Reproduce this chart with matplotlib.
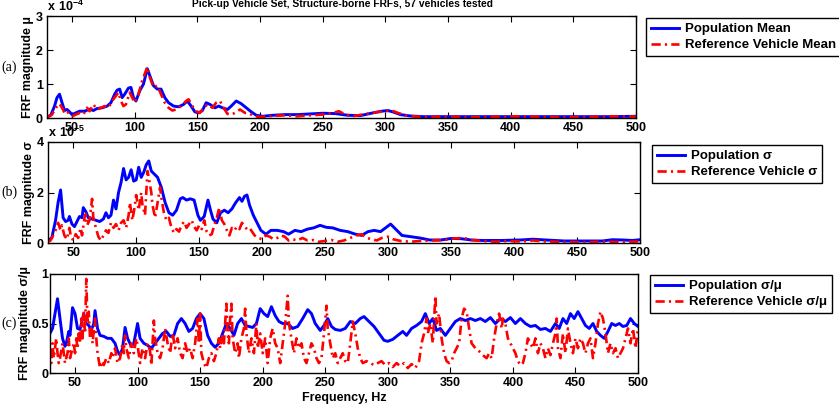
import matplotlib
matplotlib.use("Agg")
import matplotlib.pyplot as plt

# --- data (freq Hz, value) ---
# panel (a): mean, units of 1e-4
mu_pop = [(30, 0.03), (33, 0.08), (36, 0.35), (38, 0.6), (40, 0.7), (42, 0.45), (44, 0.22), (46, 0.25),
          (48, 0.18), (50, 0.1), (53, 0.15), (56, 0.2), (60, 0.2), (64, 0.26), (67, 0.22), (70, 0.28),
          (74, 0.3), (78, 0.35), (81, 0.45), (84, 0.7), (86, 0.82), (88, 0.85), (90, 0.6), (92, 0.7),
          (95, 0.88), (97, 0.9), (99, 0.6), (101, 0.5), (104, 0.8), (107, 1.0), (110, 1.45), (112, 1.25),
          (115, 0.95), (118, 0.85), (121, 0.85), (124, 0.6), (127, 0.45), (131, 0.35), (135, 0.33),
          (139, 0.4), (142, 0.5), (145, 0.35), (148, 0.18), (151, 0.15), (154, 0.22), (157, 0.45),
          (160, 0.4), (164, 0.3), (167, 0.35), (170, 0.3), (174, 0.25), (177, 0.35), (181, 0.5),
          (185, 0.42), (189, 0.3), (193, 0.18), (197, 0.08), (202, 0.05), (210, 0.08), (220, 0.1),
          (230, 0.1), (240, 0.12), (250, 0.14), (260, 0.13), (270, 0.08), (280, 0.07), (290, 0.15),
          (297, 0.2), (302, 0.22), (306, 0.18), (312, 0.1), (320, 0.06), (330, 0.04), (345, 0.04),
          (360, 0.04), (380, 0.04), (400, 0.04), (420, 0.04), (440, 0.04), (460, 0.04), (480, 0.04),
          (500, 0.05)]
mu_ref = [(30, 0.02), (34, 0.1), (37, 0.3), (40, 0.42), (42, 0.3), (44, 0.15), (46, 0.2), (48, 0.1),
          (50, 0.05), (53, 0.1), (56, 0.15), (59, 0.1), (62, 0.3), (64, 0.2), (67, 0.4), (70, 0.25),
          (73, 0.3), (76, 0.35), (79, 0.3), (82, 0.5), (85, 0.65), (87, 0.75), (89, 0.5), (91, 0.35),
          (93, 0.4), (96, 0.75), (98, 0.6), (100, 0.45), (103, 0.7), (106, 1.1), (110, 1.5), (112, 1.2),
          (115, 0.9), (118, 0.95), (121, 0.7), (124, 0.45), (127, 0.3), (130, 0.22), (133, 0.25),
          (137, 0.35), (141, 0.5), (143, 0.55), (146, 0.35), (149, 0.2), (152, 0.15), (155, 0.3),
          (158, 0.4), (162, 0.3), (165, 0.45), (168, 0.5), (171, 0.3), (174, 0.12), (177, 0.1),
          (180, 0.15), (184, 0.25), (188, 0.15), (192, 0.12), (196, 0.05), (200, 0.03), (210, 0.06),
          (220, 0.08), (230, 0.05), (240, 0.08), (250, 0.1), (258, 0.15), (263, 0.2), (268, 0.1),
          (275, 0.06), (285, 0.12), (295, 0.18), (305, 0.22), (310, 0.15), (318, 0.06), (330, 0.03),
          (350, 0.04), (370, 0.02), (400, 0.05), (420, 0.04), (440, 0.02), (460, 0.03), (480, 0.05),
          (500, 0.04)]

# panel (b): std dev, units of 1e-5
sig_pop = [(30, 0.1), (33, 0.2), (36, 0.9), (38, 1.6), (40, 2.1), (42, 1.0), (44, 0.85), (46, 0.9),
           (47, 1.05), (49, 0.75), (51, 0.65), (53, 0.85), (55, 1.05), (57, 1.0), (58, 1.4), (60, 1.25),
           (62, 1.0), (65, 0.95), (68, 0.9), (71, 0.85), (74, 0.95), (76, 1.2), (78, 1.0), (80, 1.1),
           (82, 1.7), (84, 1.35), (86, 2.0), (88, 2.4), (90, 2.95), (92, 2.5), (94, 2.6), (96, 2.9),
           (98, 2.45), (100, 2.5), (102, 3.0), (104, 2.6), (106, 2.8), (108, 3.1), (110, 3.25),
           (112, 2.85), (114, 2.75), (117, 2.6), (120, 2.2), (123, 1.6), (126, 1.2), (129, 1.1),
           (132, 1.3), (135, 1.75), (137, 1.8), (140, 1.7), (143, 1.75), (146, 1.7), (149, 1.1),
           (151, 0.9), (154, 1.05), (157, 1.7), (159, 1.3), (161, 0.95), (164, 0.8), (167, 1.2),
           (170, 1.3), (173, 1.2), (176, 1.35), (179, 1.6), (182, 1.8), (184, 1.65), (186, 1.85),
           (188, 1.9), (190, 1.5), (193, 1.1), (196, 0.8), (199, 0.5), (203, 0.35), (207, 0.5),
           (212, 0.5), (217, 0.45), (221, 0.35), (226, 0.5), (231, 0.45), (236, 0.55), (241, 0.6),
           (246, 0.7), (251, 0.62), (256, 0.6), (262, 0.5), (268, 0.45), (274, 0.35), (279, 0.3),
           (284, 0.45), (289, 0.5), (294, 0.45), (298, 0.6), (302, 0.75), (306, 0.55), (311, 0.3),
           (318, 0.25), (325, 0.2), (333, 0.12), (342, 0.12), (350, 0.18), (358, 0.17), (366, 0.12),
           (375, 0.1), (390, 0.1), (405, 0.12), (415, 0.15), (425, 0.12), (440, 0.08), (455, 0.08),
           (470, 0.08), (478, 0.13), (486, 0.12), (494, 0.1), (500, 0.13)]
sig_ref = [(30, 0.05), (32, 0.1), (34, 0.3), (36, 0.5), (38, 0.8), (40, 0.5), (41, 0.7), (43, 0.3),
           (45, 0.15), (47, 0.6), (48, 0.3), (50, 0.1), (52, 0.35), (54, 0.2), (56, 0.6), (57, 0.3),
           (59, 1.0), (60, 1.15), (61, 0.7), (63, 0.9), (65, 1.75), (66, 1.0), (68, 0.6), (70, 0.25),
           (72, 0.1), (74, 0.3), (76, 0.5), (78, 0.4), (80, 0.8), (82, 0.6), (84, 0.75), (86, 0.5),
           (88, 0.8), (90, 0.9), (92, 0.6), (94, 1.1), (95, 1.6), (97, 0.9), (99, 1.5), (100, 1.9),
           (102, 1.3), (104, 2.0), (105, 1.5), (107, 1.1), (109, 2.85), (110, 2.6), (112, 2.0),
           (113, 1.5), (115, 1.0), (117, 1.6), (119, 2.2), (120, 1.8), (122, 1.2), (124, 0.9),
           (126, 1.0), (128, 0.6), (130, 0.4), (132, 0.55), (134, 0.45), (136, 0.7), (138, 0.85),
           (140, 0.6), (142, 0.75), (144, 0.9), (146, 0.65), (148, 0.5), (150, 0.7), (152, 0.55),
           (154, 0.9), (156, 0.45), (158, 0.3), (160, 0.35), (162, 0.7), (164, 1.0), (166, 1.4),
           (168, 0.9), (170, 0.75), (172, 0.5), (174, 0.3), (176, 0.6), (178, 0.5), (180, 0.65),
           (182, 0.55), (184, 0.8), (186, 0.65), (188, 0.55), (190, 0.6), (192, 0.45), (194, 0.3),
           (197, 0.2), (200, 0.15), (203, 0.3), (206, 0.25), (209, 0.15), (212, 0.2), (215, 0.3),
           (218, 0.25), (221, 0.1), (224, 0.15), (228, 0.1), (232, 0.2), (236, 0.1), (240, 0.12),
           (245, 0.05), (250, 0.08), (255, 0.12), (260, 0.05), (265, 0.1), (270, 0.2), (275, 0.3),
           (279, 0.35), (283, 0.2), (287, 0.15), (291, 0.1), (295, 0.2), (300, 0.25), (304, 0.15),
           (310, 0.08), (318, 0.05), (325, 0.08), (335, 0.1), (345, 0.12), (352, 0.18), (360, 0.2),
           (366, 0.12), (375, 0.08), (385, 0.05), (395, 0.08), (405, 0.06), (415, 0.1), (425, 0.06),
           (440, 0.04), (455, 0.03), (470, 0.05), (485, 0.04), (500, 0.06)]

# panel (c): sigma / mu
cv_pop = [(30, 0.4), (32, 0.45), (34, 0.6), (36, 0.75), (38, 0.55), (40, 0.35), (42, 0.27), (43, 0.3),
          (45, 0.42), (46, 0.38), (48, 0.66), (50, 0.6), (52, 0.45), (54, 0.44), (56, 0.55), (57, 0.6),
          (59, 0.5), (61, 0.48), (63, 0.43), (65, 0.5), (66, 0.63), (68, 0.45), (70, 0.38), (73, 0.37),
          (76, 0.35), (79, 0.35), (82, 0.3), (84, 0.22), (86, 0.18), (88, 0.25), (90, 0.46), (92, 0.35),
          (95, 0.27), (97, 0.3), (100, 0.5), (102, 0.35), (105, 0.3), (108, 0.28), (111, 0.25),
          (114, 0.3), (117, 0.35), (120, 0.4), (123, 0.42), (126, 0.37), (129, 0.38), (132, 0.5),
          (135, 0.55), (138, 0.5), (141, 0.42), (144, 0.45), (147, 0.55), (150, 0.6), (153, 0.55),
          (156, 0.38), (159, 0.3), (162, 0.26), (165, 0.3), (168, 0.4), (171, 0.5), (174, 0.45),
          (177, 0.38), (180, 0.5), (183, 0.55), (186, 0.48), (189, 0.47), (192, 0.46), (195, 0.5),
          (198, 0.65), (201, 0.6), (204, 0.57), (207, 0.67), (210, 0.58), (213, 0.52), (216, 0.5),
          (220, 0.5), (224, 0.45), (228, 0.47), (232, 0.55), (236, 0.64), (239, 0.6), (242, 0.5),
          (246, 0.43), (249, 0.48), (252, 0.55), (255, 0.47), (258, 0.44), (262, 0.43), (266, 0.45),
          (270, 0.52), (274, 0.5), (278, 0.55), (281, 0.57), (285, 0.52), (289, 0.47), (293, 0.4),
          (297, 0.33), (300, 0.32), (304, 0.34), (308, 0.38), (312, 0.42), (315, 0.38), (319, 0.45),
          (323, 0.48), (327, 0.52), (330, 0.6), (333, 0.5), (336, 0.55), (339, 0.43), (342, 0.45),
          (346, 0.38), (350, 0.45), (354, 0.52), (358, 0.55), (362, 0.53), (366, 0.55), (370, 0.53),
          (374, 0.55), (378, 0.52), (382, 0.56), (386, 0.5), (390, 0.55), (394, 0.52), (398, 0.56),
          (402, 0.5), (406, 0.55), (410, 0.5), (414, 0.47), (418, 0.48), (422, 0.44), (426, 0.45),
          (430, 0.42), (434, 0.5), (437, 0.45), (440, 0.55), (443, 0.5), (446, 0.6), (449, 0.55),
          (452, 0.62), (455, 0.55), (458, 0.48), (461, 0.45), (464, 0.5), (467, 0.42), (470, 0.38),
          (473, 0.35), (476, 0.42), (479, 0.5), (482, 0.48), (485, 0.5), (488, 0.47), (491, 0.48),
          (494, 0.55), (497, 0.5), (500, 0.47)]
cv_ref = [(30, 0.25), (31, 0.1), (32, 0.3), (33, 0.15), (34, 0.25), (35, 0.35), (36, 0.2), (37, 0.1),
          (38, 0.15), (40, 0.3), (41, 0.2), (42, 0.1), (44, 0.2), (45, 0.35), (46, 0.15), (48, 0.25),
          (49, 0.3), (50, 0.2), (51, 0.35), (52, 0.25), (53, 0.4), (54, 0.3), (55, 0.55), (56, 0.35),
          (57, 0.62), (58, 0.4), (59, 0.95), (60, 0.5), (61, 0.62), (62, 0.35), (63, 0.45), (64, 0.3),
          (66, 0.55), (67, 0.35), (68, 0.2), (70, 0.05), (72, 0.12), (73, 0.08), (75, 0.15), (77, 0.1),
          (79, 0.2), (80, 0.15), (82, 0.25), (84, 0.1), (86, 0.15), (88, 0.3), (89, 0.2), (90, 0.38),
          (91, 0.25), (93, 0.15), (95, 0.3), (97, 0.2), (99, 0.35), (100, 0.28), (102, 0.1), (104, 0.25),
          (106, 0.15), (108, 0.3), (110, 0.22), (111, 0.08), (113, 0.53), (114, 0.35), (116, 0.2),
          (118, 0.15), (120, 0.25), (122, 0.45), (124, 0.3), (126, 0.2), (128, 0.4), (130, 0.25),
          (132, 0.35), (134, 0.2), (136, 0.15), (138, 0.3), (140, 0.2), (142, 0.25), (144, 0.15),
          (146, 0.3), (148, 0.55), (149, 0.3), (150, 0.6), (151, 0.2), (153, 0.1), (155, 0.05),
          (157, 0.15), (159, 0.2), (161, 0.12), (163, 0.2), (165, 0.35), (166, 0.25), (168, 0.4),
          (169, 0.3), (171, 0.7), (172, 0.4), (173, 0.3), (174, 0.55), (175, 0.7), (176, 0.35),
          (178, 0.2), (180, 0.3), (181, 0.15), (183, 0.35), (185, 0.45), (186, 0.65), (187, 0.4),
          (189, 0.2), (191, 0.35), (193, 0.2), (195, 0.5), (196, 0.25), (198, 0.4), (200, 0.2),
          (202, 0.35), (204, 0.1), (206, 0.35), (208, 0.45), (210, 0.3), (212, 0.25), (214, 0.1),
          (216, 0.3), (218, 0.5), (220, 0.78), (221, 0.5), (223, 0.35), (225, 0.2), (227, 0.35),
          (229, 0.25), (231, 0.3), (233, 0.15), (235, 0.1), (237, 0.2), (239, 0.3), (241, 0.25),
          (243, 0.15), (245, 0.1), (247, 0.15), (249, 0.4), (251, 0.68), (252, 0.45), (254, 0.3),
          (256, 0.15), (258, 0.2), (260, 0.1), (262, 0.15), (264, 0.2), (266, 0.12), (268, 0.1),
          (270, 0.3), (272, 0.52), (274, 0.4), (276, 0.25), (278, 0.15), (280, 0.1), (283, 0.12),
          (286, 0.1), (289, 0.08), (292, 0.1), (295, 0.12), (298, 0.08), (301, 0.1), (304, 0.06),
          (307, 0.1), (310, 0.07), (313, 0.1), (316, 0.05), (319, 0.09), (322, 0.05), (325, 0.12),
          (327, 0.3), (329, 0.4), (331, 0.55), (332, 0.4), (334, 0.5), (336, 0.3), (338, 0.78),
          (339, 0.5), (341, 0.6), (343, 0.35), (345, 0.2), (347, 0.12), (349, 0.1), (351, 0.12),
          (353, 0.2), (355, 0.25), (357, 0.3), (359, 0.55), (361, 0.65), (363, 0.62), (365, 0.45),
          (367, 0.3), (370, 0.25), (373, 0.22), (376, 0.18), (379, 0.15), (381, 0.2), (383, 0.15),
          (385, 0.35), (387, 0.5), (389, 0.6), (391, 0.45), (392, 0.55), (394, 0.5), (396, 0.35),
          (398, 0.3), (400, 0.25), (402, 0.2), (404, 0.12), (406, 0.08), (408, 0.1), (410, 0.2),
          (412, 0.35), (414, 0.3), (416, 0.25), (418, 0.35), (420, 0.2), (422, 0.3), (424, 0.25),
          (426, 0.15), (428, 0.25), (430, 0.18), (432, 0.3), (434, 0.4), (435, 0.55), (436, 0.25),
          (438, 0.15), (440, 0.4), (442, 0.2), (444, 0.45), (446, 0.3), (448, 0.2), (450, 0.35),
          (452, 0.25), (454, 0.35), (456, 0.3), (458, 0.2), (460, 0.3), (462, 0.35), (464, 0.15),
          (466, 0.3), (468, 0.5), (470, 0.62), (472, 0.55), (474, 0.4), (476, 0.2), (478, 0.3),
          (480, 0.2), (482, 0.25), (484, 0.15), (486, 0.2), (488, 0.25), (490, 0.35), (492, 0.45),
          (494, 0.3), (496, 0.45), (498, 0.25), (500, 0.45)]

x_ticks = [50, 100, 150, 200, 250, 300, 350, 400, 450, 500]
title = "Pick-up Vehicle Set, Structure-borne FRFs, 57 vehicles tested"

plt.rcParams["font.family"] = ["Liberation Sans", "DejaVu Sans"]
plt.rcParams["font.weight"] = "bold"
plt.rcParams["mathtext.fontset"] = "custom"
plt.rcParams["mathtext.bf"] = "Liberation Sans:bold"
plt.rcParams["mathtext.rm"] = "Liberation Sans:bold"

fig = plt.figure(figsize=(8.39, 4.08), dpi=100)
W, H = 839.0, 408.0


def panel(px, pop, ref, ylim, yticks, ylabel, tag, labels, leg_px, expo=None,
          lab_x=-0.022, tpad=3):
    # px = (left, top, right, bottom) in pixels
    l, t, r, b = px
    ax = fig.add_axes([l / W, 1 - b / H, (r - l) / W, (b - t) / H])
    f1, v1 = zip(*pop)
    f2, v2 = zip(*ref)
    ax.plot(f1, v1, color="#0000ff", lw=2.1, solid_joinstyle="round", label=labels[0])
    ax.plot(f2, v2, color="#ff0000", lw=1.9, ls=(0, (3.5, 1.6, 0.8, 1.6)), label=labels[1])
    ax.set_xlim(30, 500)
    ax.set_ylim(*ylim)
    ax.set_xticks(x_ticks)
    ax.set_yticks(yticks)
    ax.set_yticklabels([("%g" % v) for v in yticks])
    ax.tick_params(direction="in", top=True, right=True, length=4, width=0.8,
                   labelsize=9, pad=3)
    ax.tick_params(axis="y", pad=tpad)
    for s in ax.spines.values():
        s.set_linewidth(1.0)
    ax.set_ylabel(ylabel, fontsize=9, fontweight="bold")
    ax.yaxis.set_label_coords(lab_x, 0.5)
    fig.text(0.002, 1 - (t + b) / 2 / H, tag, family="Liberation Serif",
             fontweight="normal", fontsize=10, va="center", ha="left")
    if expo:
        ax.text(0.0, 1.015, r"$\mathbf{x\ 10^{%s}}$" % expo, transform=ax.transAxes,
                fontsize=9, ha="left", va="bottom")
    leg = ax.legend(loc="upper left", bbox_to_anchor=(leg_px[0] / W, 1 - leg_px[1] / H),
                    bbox_transform=fig.transFigure, borderaxespad=0, fancybox=False,
                    framealpha=1, edgecolor="black", handlelength=2.1,
                    handletextpad=0.45, borderpad=0.38, labelspacing=0.3,
                    prop={"weight": "bold", "size": 9.5})
    leg.get_frame().set_linewidth(1.0)
    return ax


panel((47, 16, 636, 118), mu_pop, mu_ref, (0, 3), [0, 1, 2, 3], "FRF magnitude \u03bc", "(a)",
      ["Population Mean", "Reference Vehicle Mean"], (646, 18), expo="-4")
panel((48, 142, 640, 243), sig_pop, sig_ref, (0, 4), [0, 2, 4], "FRF magnitude \u03c3", "(b)",
      ["Population \u03c3", "Reference Vehicle \u03c3"], (652, 145), expo="-5")
ax_c = panel((50, 274, 638, 373), cv_pop, cv_ref, (0, 1), [0, 0.5, 1], "FRF magnitude \u03c3/\u03bc",
             "(c)", ["Population \u03c3/\u03bc", "Reference Vehicle \u03c3/\u03bc"], (650, 275),
             lab_x=-0.033, tpad=1)
ax_c.set_xlabel("Frequency, Hz", fontsize=9, fontweight="bold", labelpad=2)

fig.text(342 / W, 1 - 4 / H, title, ha="center", va="center", fontsize=7.4, fontweight="bold")

fig.savefig("out.png", dpi=100)
